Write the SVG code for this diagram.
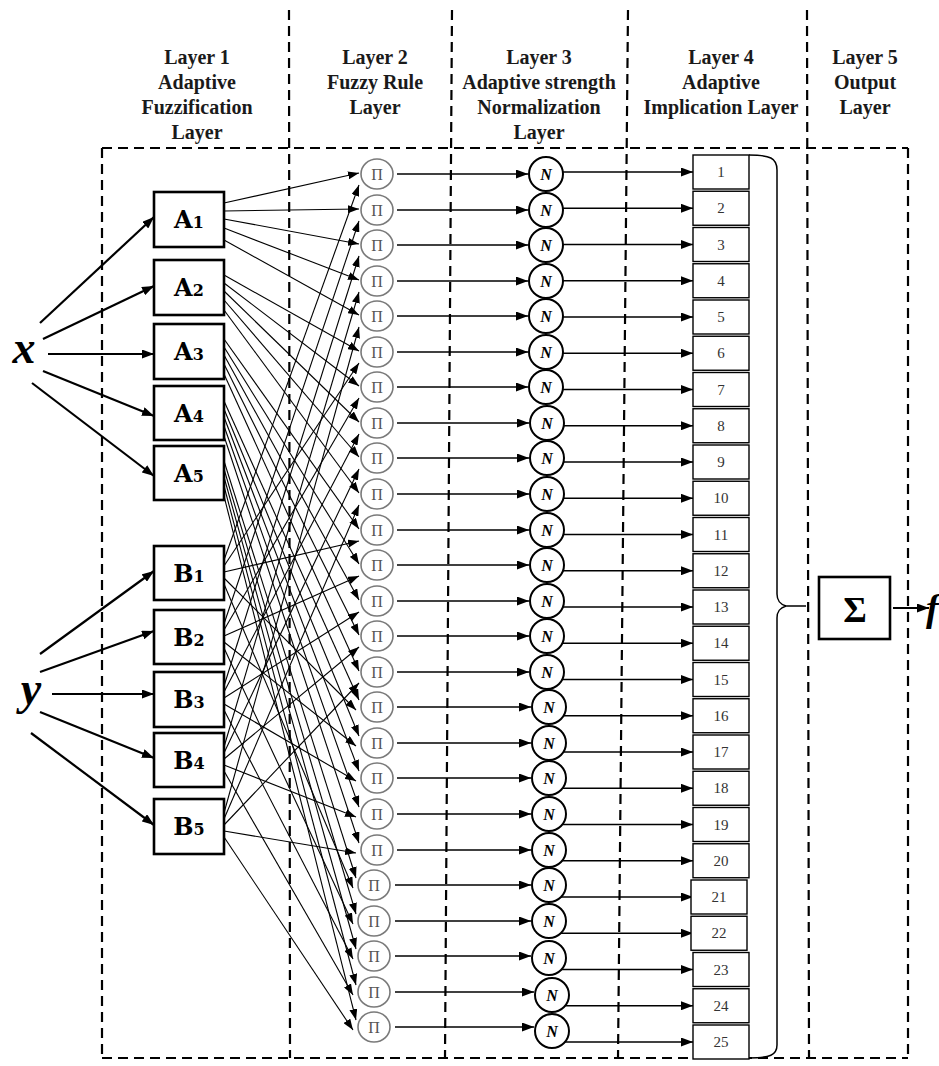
<svg xmlns="http://www.w3.org/2000/svg" width="939" height="1066" viewBox="0 0 939 1066">
<defs>
<marker id="ah" markerUnits="userSpaceOnUse" markerWidth="11" markerHeight="8" refX="11" refY="4" orient="auto"><path d="M0,0 L11,4 L0,8 z" fill="#000"/></marker>
<marker id="ahb" markerUnits="userSpaceOnUse" markerWidth="12" markerHeight="9" refX="12" refY="4.5" orient="auto"><path d="M0,0 L12,4.5 L0,9 z" fill="#000"/></marker>
</defs>
<style>
.dash{fill:none;stroke:#000;stroke-width:2.2;stroke-dasharray:10 6}
.hdr{font-family:"Liberation Serif","Times New Roman",serif;font-weight:bold;font-size:20px;text-anchor:middle;fill:#1a1a1a}
.box{fill:#fff;stroke:#000;stroke-width:2.6}
.lbl{font-family:"DejaVu Serif","Liberation Serif",serif;font-weight:bold;font-size:24px;text-anchor:middle;fill:#000}
.sub{font-size:16px}
.var{font-family:"Liberation Serif","Times New Roman",serif;font-weight:bold;font-style:italic;font-size:46px;text-anchor:middle;fill:#000}
.pi ellipse{fill:#fff;stroke:#7a7a7a;stroke-width:1.6}
.pi text{font-family:"Liberation Serif","Times New Roman",serif;font-size:16px;text-anchor:middle;fill:#555}
.nn circle{fill:#fff;stroke:#000;stroke-width:2}
.nn text{font-family:"Liberation Serif","Times New Roman",serif;font-style:italic;font-weight:bold;font-size:16px;text-anchor:middle;fill:#000}
.rb rect{fill:#fff;stroke:#000;stroke-width:1.4}
.rb text{font-family:"Liberation Serif","Times New Roman",serif;font-size:15px;text-anchor:middle;fill:#333}
.c line{stroke:#000;stroke-width:1.1;fill:none;marker-end:url(#ah)}
.ci line{stroke:#000;stroke-width:2.2;fill:none;marker-end:url(#ahb)}
.h line{stroke:#000;stroke-width:1.4;fill:none;marker-end:url(#ahb)}
</style>
<rect width="939" height="1066" fill="#fff"/>

<g id="layers">
<line class="dash" x1="102" y1="148" x2="908" y2="148"/>
<line class="dash" x1="102" y1="1058" x2="908" y2="1058"/>
<line class="dash" x1="102" y1="148" x2="102" y2="1058"/>
<line class="dash" x1="908" y1="148" x2="908" y2="1058"/>
<line class="dash" x1="289" y1="10" x2="290" y2="1058"/>
<line class="dash" x1="452" y1="10" x2="445" y2="1058"/>
<line class="dash" x1="628" y1="10" x2="618" y2="1058"/>
<line class="dash" x1="807" y1="10" x2="809" y2="1058"/>
</g>

<g id="headers">
<text class="hdr" x="197" y="64">Layer 1</text>
<text class="hdr" x="197" y="89">Adaptive</text>
<text class="hdr" x="197" y="114">Fuzzification</text>
<text class="hdr" x="197" y="139">Layer</text>
<text class="hdr" x="375" y="64">Layer 2</text>
<text class="hdr" x="375" y="89">Fuzzy Rule</text>
<text class="hdr" x="375" y="114">Layer</text>
<text class="hdr" x="539" y="64">Layer 3</text>
<text class="hdr" x="539" y="89">Adaptive strength</text>
<text class="hdr" x="539" y="114">Normalization</text>
<text class="hdr" x="539" y="139">Layer</text>
<text class="hdr" x="721" y="64">Layer 4</text>
<text class="hdr" x="721" y="89">Adaptive</text>
<text class="hdr" x="721" y="114">Implication Layer</text>
<text class="hdr" x="865" y="64">Layer 5</text>
<text class="hdr" x="865" y="89">Output</text>
<text class="hdr" x="865" y="114">Layer</text>
</g>

<g id="connectors">
<g class="ci">
<line x1="40" y1="323" x2="154" y2="217"/>
<line x1="43" y1="339" x2="154" y2="286"/>
<line x1="48" y1="354" x2="154" y2="354"/>
<line x1="43" y1="371" x2="154" y2="416"/>
<line x1="32" y1="383" x2="154" y2="476"/>
<line x1="40" y1="654" x2="154" y2="571"/>
<line x1="40" y1="672" x2="154" y2="631"/>
<line x1="52" y1="694" x2="154" y2="694"/>
<line x1="40" y1="712" x2="154" y2="758"/>
<line x1="31" y1="733" x2="154" y2="825"/>
</g>
<g class="c">
<line x1="224" y1="203" x2="359" y2="173"/>
<line x1="224" y1="211" x2="359" y2="209"/>
<line x1="224" y1="219" x2="359" y2="244"/>
<line x1="224" y1="228" x2="359" y2="280"/>
<line x1="224" y1="240" x2="359" y2="315"/>
<line x1="224" y1="275" x2="359" y2="351"/>
<line x1="224" y1="283" x2="359" y2="386"/>
<line x1="224" y1="291" x2="359" y2="422"/>
<line x1="224" y1="300" x2="359" y2="457"/>
<line x1="224" y1="310" x2="359" y2="493"/>
<line x1="224" y1="339" x2="359" y2="529"/>
<line x1="224" y1="347" x2="359" y2="564"/>
<line x1="224" y1="355" x2="359" y2="600"/>
<line x1="224" y1="364" x2="359" y2="635"/>
<line x1="224" y1="374" x2="359" y2="671"/>
<line x1="224" y1="401" x2="359" y2="700"/>
<line x1="224" y1="409" x2="359" y2="736"/>
<line x1="224" y1="417" x2="359" y2="771"/>
<line x1="224" y1="426" x2="359" y2="807"/>
<line x1="224" y1="436" x2="359" y2="843"/>
<line x1="224" y1="461" x2="356" y2="878"/>
<line x1="224" y1="469" x2="356" y2="914"/>
<line x1="224" y1="477" x2="356" y2="949"/>
<line x1="224" y1="486" x2="356" y2="985"/>
<line x1="224" y1="496" x2="356" y2="1020"/>
<line x1="224" y1="560" x2="359" y2="185"/>
<line x1="224" y1="566" x2="359" y2="363"/>
<line x1="224" y1="572" x2="359" y2="541"/>
<line x1="224" y1="578" x2="356" y2="710"/>
<line x1="224" y1="584" x2="353" y2="888"/>
<line x1="224" y1="624" x2="359" y2="221"/>
<line x1="224" y1="630" x2="359" y2="398"/>
<line x1="224" y1="636" x2="359" y2="576"/>
<line x1="224" y1="642" x2="356" y2="746"/>
<line x1="224" y1="648" x2="353" y2="924"/>
<line x1="224" y1="686" x2="359" y2="256"/>
<line x1="224" y1="692" x2="359" y2="434"/>
<line x1="224" y1="698" x2="359" y2="612"/>
<line x1="224" y1="704" x2="356" y2="781"/>
<line x1="224" y1="710" x2="353" y2="959"/>
<line x1="224" y1="747" x2="359" y2="292"/>
<line x1="224" y1="753" x2="359" y2="469"/>
<line x1="224" y1="759" x2="359" y2="647"/>
<line x1="224" y1="765" x2="356" y2="817"/>
<line x1="224" y1="771" x2="353" y2="995"/>
<line x1="224" y1="813" x2="359" y2="327"/>
<line x1="224" y1="819" x2="359" y2="505"/>
<line x1="224" y1="825" x2="359" y2="683"/>
<line x1="224" y1="831" x2="356" y2="853"/>
<line x1="224" y1="837" x2="353" y2="1030"/>
</g>
<g class="h">
<line x1="397" y1="174" x2="528" y2="174"/>
<line x1="397" y1="210" x2="528" y2="210"/>
<line x1="397" y1="245" x2="528" y2="245"/>
<line x1="397" y1="281" x2="528" y2="281"/>
<line x1="397" y1="316" x2="528" y2="316"/>
<line x1="397" y1="352" x2="528" y2="352"/>
<line x1="397" y1="387" x2="528" y2="387"/>
<line x1="397" y1="423" x2="529" y2="423"/>
<line x1="397" y1="458" x2="529" y2="458"/>
<line x1="397" y1="494" x2="529" y2="494"/>
<line x1="397" y1="530" x2="529" y2="530"/>
<line x1="397" y1="565" x2="529" y2="565"/>
<line x1="397" y1="601" x2="529" y2="601"/>
<line x1="397" y1="636" x2="529" y2="636"/>
<line x1="397" y1="672" x2="529" y2="672"/>
<line x1="397" y1="707" x2="531" y2="707"/>
<line x1="397" y1="743" x2="531" y2="743"/>
<line x1="397" y1="778" x2="531" y2="778"/>
<line x1="397" y1="814" x2="531" y2="814"/>
<line x1="397" y1="850" x2="531" y2="850"/>
<line x1="395" y1="885" x2="531" y2="885"/>
<line x1="395" y1="921" x2="531" y2="921"/>
<line x1="395" y1="956" x2="531" y2="956"/>
<line x1="395" y1="992" x2="534" y2="992"/>
<line x1="395" y1="1027" x2="534" y2="1027"/>
<line x1="563" y1="172" x2="693" y2="172"/>
<line x1="563" y1="208.25" x2="693" y2="208.25"/>
<line x1="563" y1="244.5" x2="693" y2="244.5"/>
<line x1="563" y1="280.75" x2="693" y2="280.75"/>
<line x1="563" y1="317" x2="693" y2="317"/>
<line x1="563" y1="353.25" x2="693" y2="353.25"/>
<line x1="563" y1="389.5" x2="693" y2="389.5"/>
<line x1="564" y1="425.75" x2="693" y2="425.75"/>
<line x1="563" y1="462" x2="693" y2="462"/>
<line x1="563" y1="498.25" x2="693" y2="498.25"/>
<line x1="563" y1="534.5" x2="693" y2="534.5"/>
<line x1="563" y1="570.75" x2="693" y2="570.75"/>
<line x1="563" y1="607" x2="693" y2="607"/>
<line x1="562" y1="643.25" x2="693" y2="643.25"/>
<line x1="562" y1="679.5" x2="693" y2="679.5"/>
<line x1="563" y1="715.75" x2="693" y2="715.75"/>
<line x1="563" y1="752" x2="693" y2="752"/>
<line x1="562" y1="788.25" x2="693" y2="788.25"/>
<line x1="562" y1="824.5" x2="693" y2="824.5"/>
<line x1="562" y1="860.75" x2="693" y2="860.75"/>
<line x1="561" y1="897" x2="693" y2="897"/>
<line x1="561" y1="933.25" x2="693" y2="933.25"/>
<line x1="561" y1="969.5" x2="693" y2="969.5"/>
<line x1="565" y1="1005.75" x2="693" y2="1005.75"/>
<line x1="565" y1="1042" x2="693" y2="1042"/>
</g>
<path id="brace" d="M749,155 C770,155 777,158 777,170 L777,594 C777,601 780,604 786,606 C780,608 777,611 777,618 L777,1045 C777,1055 770,1058 749,1058 M786,606 L806,606" fill="none" stroke="#000" stroke-width="1.5"/>
<line x1="893" y1="608" x2="929" y2="608" stroke="#000" stroke-width="2.2" marker-end="url(#ahb)"/>
</g>

<g id="x"><text class="var" x="24" y="363">x</text></g>
<g id="y"><text class="var" x="31" y="704">y</text></g>

<g id="A1"><rect class="box" x="154" y="192" width="70" height="55"/><text class="lbl" x="189" y="228">A<tspan class="sub">1</tspan></text></g>
<g id="A2"><rect class="box" x="154" y="260" width="70" height="55"/><text class="lbl" x="189" y="296">A<tspan class="sub">2</tspan></text></g>
<g id="A3"><rect class="box" x="154" y="324" width="70" height="55"/><text class="lbl" x="189" y="360">A<tspan class="sub">3</tspan></text></g>
<g id="A4"><rect class="box" x="154" y="386" width="70" height="54"/><text class="lbl" x="189" y="422">A<tspan class="sub">4</tspan></text></g>
<g id="A5"><rect class="box" x="154" y="446" width="70" height="54"/><text class="lbl" x="189" y="482">A<tspan class="sub">5</tspan></text></g>
<g id="B1"><rect class="box" x="154" y="546" width="70" height="54"/><text class="lbl" x="189" y="582">B<tspan class="sub">1</tspan></text></g>
<g id="B2"><rect class="box" x="154" y="610" width="70" height="54"/><text class="lbl" x="189" y="646">B<tspan class="sub">2</tspan></text></g>
<g id="B3"><rect class="box" x="154" y="672" width="70" height="55"/><text class="lbl" x="189" y="708">B<tspan class="sub">3</tspan></text></g>
<g id="B4"><rect class="box" x="154" y="733" width="70" height="54"/><text class="lbl" x="189" y="769">B<tspan class="sub">4</tspan></text></g>
<g id="B5"><rect class="box" x="154" y="799" width="70" height="55"/><text class="lbl" x="189" y="835">B<tspan class="sub">5</tspan></text></g>

<g class="pi">
<g id="P1"><ellipse cx="377" cy="174" rx="16" ry="15"/><text x="377" y="179.5">Π</text></g>
<g id="P2"><ellipse cx="377" cy="210" rx="16" ry="15"/><text x="377" y="215.5">Π</text></g>
<g id="P3"><ellipse cx="377" cy="245" rx="16" ry="15"/><text x="377" y="250.5">Π</text></g>
<g id="P4"><ellipse cx="377" cy="281" rx="16" ry="15"/><text x="377" y="286.5">Π</text></g>
<g id="P5"><ellipse cx="377" cy="316" rx="16" ry="15"/><text x="377" y="321.5">Π</text></g>
<g id="P6"><ellipse cx="377" cy="352" rx="16" ry="15"/><text x="377" y="357.5">Π</text></g>
<g id="P7"><ellipse cx="377" cy="387" rx="16" ry="15"/><text x="377" y="392.5">Π</text></g>
<g id="P8"><ellipse cx="377" cy="423" rx="16" ry="15"/><text x="377" y="428.5">Π</text></g>
<g id="P9"><ellipse cx="377" cy="458" rx="16" ry="15"/><text x="377" y="463.5">Π</text></g>
<g id="P10"><ellipse cx="377" cy="494" rx="16" ry="15"/><text x="377" y="499.5">Π</text></g>
<g id="P11"><ellipse cx="377" cy="530" rx="16" ry="15"/><text x="377" y="535.5">Π</text></g>
<g id="P12"><ellipse cx="377" cy="565" rx="16" ry="15"/><text x="377" y="570.5">Π</text></g>
<g id="P13"><ellipse cx="377" cy="601" rx="16" ry="15"/><text x="377" y="606.5">Π</text></g>
<g id="P14"><ellipse cx="377" cy="636" rx="16" ry="15"/><text x="377" y="641.5">Π</text></g>
<g id="P15"><ellipse cx="377" cy="672" rx="16" ry="15"/><text x="377" y="677.5">Π</text></g>
<g id="P16"><ellipse cx="377" cy="707" rx="16" ry="15"/><text x="377" y="712.5">Π</text></g>
<g id="P17"><ellipse cx="377" cy="743" rx="16" ry="15"/><text x="377" y="748.5">Π</text></g>
<g id="P18"><ellipse cx="377" cy="778" rx="16" ry="15"/><text x="377" y="783.5">Π</text></g>
<g id="P19"><ellipse cx="377" cy="814" rx="16" ry="15"/><text x="377" y="819.5">Π</text></g>
<g id="P20"><ellipse cx="377" cy="850" rx="16" ry="15"/><text x="377" y="855.5">Π</text></g>
<g id="P21"><ellipse cx="374" cy="885" rx="16" ry="15"/><text x="374" y="890.5">Π</text></g>
<g id="P22"><ellipse cx="374" cy="921" rx="16" ry="15"/><text x="374" y="926.5">Π</text></g>
<g id="P23"><ellipse cx="374" cy="956" rx="16" ry="15"/><text x="374" y="961.5">Π</text></g>
<g id="P24"><ellipse cx="374" cy="992" rx="16" ry="15"/><text x="374" y="997.5">Π</text></g>
<g id="P25"><ellipse cx="374" cy="1027" rx="16" ry="15"/><text x="374" y="1032.5">Π</text></g>
</g>

<g class="nn">
<g id="N1"><circle cx="546" cy="174" r="17"/><text x="546" y="179.5">N</text></g>
<g id="N2"><circle cx="546" cy="210" r="17"/><text x="546" y="215.5">N</text></g>
<g id="N3"><circle cx="546" cy="245" r="17"/><text x="546" y="250.5">N</text></g>
<g id="N4"><circle cx="546" cy="281" r="17"/><text x="546" y="286.5">N</text></g>
<g id="N5"><circle cx="546" cy="316" r="17"/><text x="546" y="321.5">N</text></g>
<g id="N6"><circle cx="546" cy="352" r="17"/><text x="546" y="357.5">N</text></g>
<g id="N7"><circle cx="546" cy="387" r="17"/><text x="546" y="392.5">N</text></g>
<g id="N8"><circle cx="547" cy="423" r="17"/><text x="547" y="428.5">N</text></g>
<g id="N9"><circle cx="547" cy="458" r="17"/><text x="547" y="463.5">N</text></g>
<g id="N10"><circle cx="547" cy="494" r="17"/><text x="547" y="499.5">N</text></g>
<g id="N11"><circle cx="547" cy="530" r="17"/><text x="547" y="535.5">N</text></g>
<g id="N12"><circle cx="547" cy="565" r="17"/><text x="547" y="570.5">N</text></g>
<g id="N13"><circle cx="547" cy="601" r="17"/><text x="547" y="606.5">N</text></g>
<g id="N14"><circle cx="547" cy="636" r="17"/><text x="547" y="641.5">N</text></g>
<g id="N15"><circle cx="547" cy="672" r="17"/><text x="547" y="677.5">N</text></g>
<g id="N16"><circle cx="549" cy="707" r="17"/><text x="549" y="712.5">N</text></g>
<g id="N17"><circle cx="549" cy="743" r="17"/><text x="549" y="748.5">N</text></g>
<g id="N18"><circle cx="549" cy="778" r="17"/><text x="549" y="783.5">N</text></g>
<g id="N19"><circle cx="549" cy="814" r="17"/><text x="549" y="819.5">N</text></g>
<g id="N20"><circle cx="549" cy="850" r="17"/><text x="549" y="855.5">N</text></g>
<g id="N21"><circle cx="549" cy="885" r="17"/><text x="549" y="890.5">N</text></g>
<g id="N22"><circle cx="549" cy="921" r="17"/><text x="549" y="926.5">N</text></g>
<g id="N23"><circle cx="549" cy="958" r="17"/><text x="549" y="963.5">N</text></g>
<g id="N24"><circle cx="552" cy="995" r="17"/><text x="552" y="1000.5">N</text></g>
<g id="N25"><circle cx="552" cy="1031" r="17"/><text x="552" y="1036.5">N</text></g>
</g>

<g class="rb">
<g id="R1"><rect x="693" y="155" width="56" height="34"/><text x="721" y="177">1</text></g>
<g id="R2"><rect x="693" y="191.25" width="56" height="34"/><text x="721" y="213.25">2</text></g>
<g id="R3"><rect x="693" y="227.5" width="56" height="34"/><text x="721" y="249.5">3</text></g>
<g id="R4"><rect x="693" y="263.75" width="56" height="34"/><text x="721" y="285.75">4</text></g>
<g id="R5"><rect x="693" y="300" width="56" height="34"/><text x="721" y="322">5</text></g>
<g id="R6"><rect x="693" y="336.25" width="56" height="34"/><text x="721" y="358.25">6</text></g>
<g id="R7"><rect x="693" y="372.5" width="56" height="34"/><text x="721" y="394.5">7</text></g>
<g id="R8"><rect x="693" y="408.75" width="56" height="34"/><text x="721" y="430.75">8</text></g>
<g id="R9"><rect x="693" y="445" width="56" height="34"/><text x="721" y="467">9</text></g>
<g id="R10"><rect x="693" y="481.25" width="56" height="34"/><text x="721" y="503.25">10</text></g>
<g id="R11"><rect x="693" y="517.5" width="56" height="34"/><text x="721" y="539.5">11</text></g>
<g id="R12"><rect x="693" y="553.75" width="56" height="34"/><text x="721" y="575.75">12</text></g>
<g id="R13"><rect x="693" y="590" width="56" height="34"/><text x="721" y="612">13</text></g>
<g id="R14"><rect x="693" y="626.25" width="56" height="34"/><text x="721" y="648.25">14</text></g>
<g id="R15"><rect x="693" y="662.5" width="56" height="34"/><text x="721" y="684.5">15</text></g>
<g id="R16"><rect x="693" y="698.75" width="56" height="34"/><text x="721" y="720.75">16</text></g>
<g id="R17"><rect x="693" y="735" width="56" height="34"/><text x="721" y="757">17</text></g>
<g id="R18"><rect x="693" y="771.25" width="56" height="34"/><text x="721" y="793.25">18</text></g>
<g id="R19"><rect x="693" y="807.5" width="56" height="34"/><text x="721" y="829.5">19</text></g>
<g id="R20"><rect x="693" y="843.75" width="56" height="34"/><text x="721" y="865.75">20</text></g>
<g id="R21"><rect x="691" y="880" width="56" height="34"/><text x="719" y="902">21</text></g>
<g id="R22"><rect x="691" y="916.25" width="56" height="34"/><text x="719" y="938.25">22</text></g>
<g id="R23"><rect x="693" y="952.5" width="56" height="34"/><text x="721" y="974.5">23</text></g>
<g id="R24"><rect x="693" y="988.75" width="56" height="34"/><text x="721" y="1010.75">24</text></g>
<g id="R25"><rect x="693" y="1025" width="56" height="34"/><text x="721" y="1047">25</text></g>
</g>

<g id="sum"><rect class="box" x="819" y="577" width="71" height="62"/><text x="855" y="622" font-family="Liberation Serif, serif" font-weight="bold" font-size="36" text-anchor="middle">Σ</text></g>
<g id="f"><text x="926" y="621" font-family="Liberation Serif, serif" font-style="italic" font-weight="bold" font-size="38">f</text></g>
</svg>
